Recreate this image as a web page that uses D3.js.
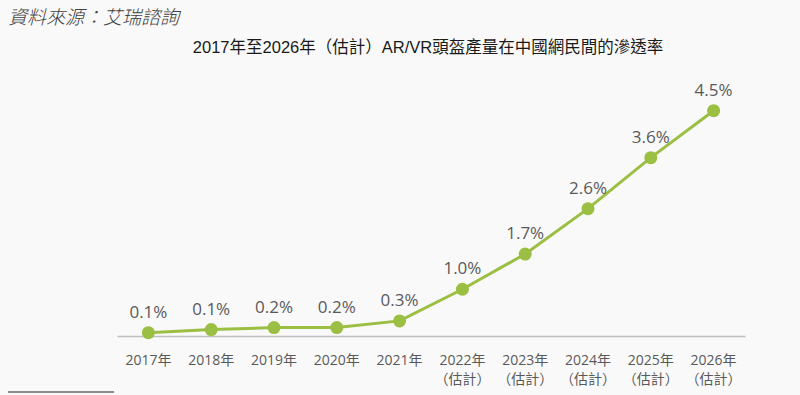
<!DOCTYPE html>
<html>
<head>
<meta charset="utf-8">
<script src="https://cdn.jsdelivr.net/npm/d3@7"></script>
<style>
  body { margin: 0; background: #f9f9f9; }
  svg { display: block; }
</style>
</head>
<body>
<div id="chart"></div>
<script>
// data
var years = ["2017年", "2018年", "2019年", "2020年", "2021年", "2022年", "2023年", "2024年", "2025年", "2026年"];
var estimated = [false, false, false, false, false, true, true, true, true, true];
var rate = [0.15, 0.21, 0.25, 0.25, 0.38, 1.0, 1.69, 2.58, 3.58, 4.5];
var rateLabels = ["0.1%", "0.1%", "0.2%", "0.2%", "0.3%", "1.0%", "1.7%", "2.6%", "3.6%", "4.5%"];

var width = 800, height = 395;
var green = "#9bbf43";

var svg = d3.select("#chart").append("svg")
    .attr("width", width)
    .attr("height", height);

svg.append("rect").attr("width", width).attr("height", height).attr("fill", "#f9f9f9");

// source + title
svg.append("text")
    .attr("x", 8).attr("y", 24)
    .attr("font-family", "'Noto Sans CJK TC', sans-serif")
    .attr("font-size", 19)
    .attr("font-style", "italic")
    .attr("font-weight", 300)
    .attr("fill", "#404040")
    .text("資料來源：艾瑞諮詢");

svg.append("text")
    .attr("x", 428).attr("y", 53)
    .attr("text-anchor", "middle")
    .attr("font-family", "'Liberation Sans', 'Noto Sans CJK TC', sans-serif")
    .attr("font-size", 16.5)
    .attr("fill", "#1a1a1a")
    .text("2017年至2026年（估計）AR/VR頭盔產量在中國網民間的滲透率");

var x = d3.scaleBand().domain(years).range([117, 745]).padding(0);
var cx = function(d) { return x(d) + x.bandwidth() / 2; };
var y = d3.scaleLinear().domain([0, 4.5]).range([340.3, 110.7]);

// baseline
var xAxis = d3.axisBottom(x).tickSize(0).tickFormat("");
var gx = svg.append("g")
    .attr("transform", "translate(0,336)")
    .call(xAxis);
gx.select(".domain").attr("stroke", "#bfbfbf").attr("stroke-width", 1.5);

// tick labels (two lines for estimates)
var ticks = svg.append("g").selectAll("text")
    .data(years)
    .join("text")
    .attr("x", cx)
    .attr("y", 365)
    .attr("text-anchor", "middle")
    .attr("font-family", "'Open Sans', 'Noto Sans CJK TC', sans-serif")
    .attr("font-size", 14)
    .attr("fill", "#595959");
ticks.append("tspan").text(function(d) { return d; });
ticks.filter(function(d, i) { return estimated[i]; })
    .append("tspan")
    .attr("x", cx)
    .attr("dy", 19)
    .text("（估計）");

var pts = years.map(function(d, i) { return {year: d, v: rate[i], label: rateLabels[i]}; });

var line = d3.line()
    .x(function(d) { return cx(d.year); })
    .y(function(d) { return y(d.v); });

svg.append("path")
    .datum(pts)
    .attr("d", line)
    .attr("fill", "none")
    .attr("stroke", green)
    .attr("stroke-width", 3);

svg.append("g").selectAll("circle")
    .data(pts)
    .join("circle")
    .attr("cx", function(d) { return cx(d.year); })
    .attr("cy", function(d) { return y(d.v); })
    .attr("r", 6.5)
    .attr("fill", green);

svg.append("g").selectAll("text")
    .data(pts)
    .join("text")
    .attr("x", function(d) { return cx(d.year); })
    .attr("y", function(d) { return y(d.v) - 15; })
    .attr("text-anchor", "middle")
    .attr("font-family", "'Open Sans', sans-serif")
    .attr("font-size", 17)
    .attr("fill", "#595959")
    .text(function(d) { return d.label; });

// footnote rule
svg.append("line")
    .attr("x1", 8).attr("x2", 114)
    .attr("y1", 392).attr("y2", 392)
    .attr("stroke", "#666")
    .attr("stroke-width", 1.5);
</script>
</body>
</html>
